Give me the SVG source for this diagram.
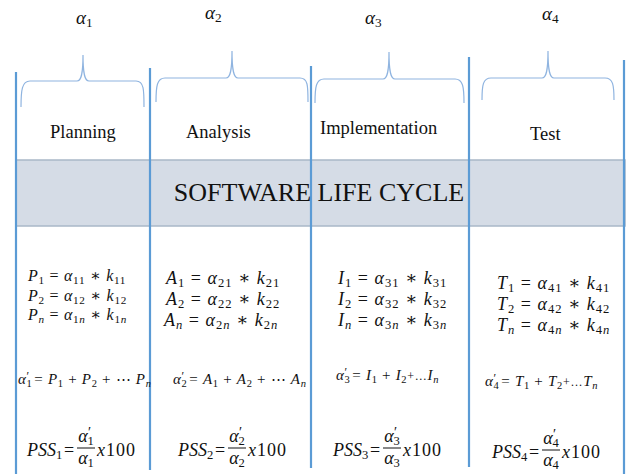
<svg xmlns="http://www.w3.org/2000/svg" width="627" height="474" viewBox="0 0 627 474">
<style>
.vl{stroke:#5b9bd5;stroke-width:2.2;fill:none}
.br{stroke:#8fb4e0;stroke-width:1.2;fill:none}
.lab{font-family:"Liberation Serif",serif;font-size:18.5px;fill:#111}
.m{font-family:"Liberation Serif","DejaVu Serif",serif;fill:#111}
.i{font-style:italic}
.sb{font-size:0.7em}
.pr{font-size:0.8em}
.al{font-family:"Liberation Serif","DejaVu Serif",serif;font-style:italic;font-size:19px;fill:#111}
.eq1{font-size:16px;letter-spacing:0.7px}
.eq2{font-size:18px;letter-spacing:1px}
.sum{font-size:15px;letter-spacing:0.7px}
.ps{font-size:18px}
.hx{letter-spacing:1px}
.bar{stroke:#111;stroke-width:1}
</style>
<rect width="627" height="474" fill="#fff"/>
<g id="band">
<rect x="16" y="160" width="609" height="66" fill="#d5dce6" stroke="#a9b8c8" stroke-width="1.5"/>
</g>
<g id="connectors">
<line class="vl" x1="16" y1="72" x2="16" y2="474"/>
<line class="vl" x1="150" y1="68" x2="150" y2="470"/>
<line class="vl" x1="311" y1="66" x2="311" y2="468"/>
<line class="vl" x1="469" y1="57" x2="469" y2="467"/>
<line class="vl" x1="624" y1="60" x2="624" y2="474"/>
</g>
<text x="319" y="201" text-anchor="middle" style="font-family:'Liberation Serif',serif;font-size:26px;fill:#111">SOFTWARE LIFE CYCLE</text>
<g id="planning">
<path class="br" d="M21,107 C21,90 22,81 30,81 L77,81 C81,81 83,75 83,55 C83,75 85,81 89,81 L136,81 C144,81 144,90 144,107"/>
<text class="al" x="76" y="24">α<tspan class="sb" dy="3" style="font-style:normal">1</tspan></text>
<text class="lab" x="50" y="138">Planning</text>
<text class="m eq1" x="28" y="281"><tspan class="i">P</tspan><tspan class="sb" dy="3">1</tspan><tspan dy="-3"> = </tspan><tspan class="i">α</tspan><tspan class="sb" dy="3">11</tspan><tspan dy="-3"> ∗  </tspan><tspan class="i">k</tspan><tspan class="sb" dy="3">11</tspan></text>
<text class="m eq1" x="28" y="301"><tspan class="i">P</tspan><tspan class="sb" dy="3">2</tspan><tspan dy="-3"> = </tspan><tspan class="i">α</tspan><tspan class="sb" dy="3">12</tspan><tspan dy="-3"> ∗  </tspan><tspan class="i">k</tspan><tspan class="sb" dy="3">12</tspan></text>
<text class="m eq1" x="28" y="320"><tspan class="i">P</tspan><tspan class="sb i" dy="3">n</tspan><tspan dy="-3"> = </tspan><tspan class="i">α</tspan><tspan class="sb" dy="3">1<tspan class="i">n</tspan></tspan><tspan dy="-3"> ∗  </tspan><tspan class="i">k</tspan><tspan class="sb" dy="3">1<tspan class="i">n</tspan></tspan></text>
<text class="m sum" x="18" y="384"><tspan class="i">α</tspan><tspan class="sb" dy="3">1</tspan><tspan class="pr" dx="-6" dy="-7">′</tspan><tspan dy="4"> =  </tspan><tspan class="i">P</tspan><tspan class="sb" dy="3">1</tspan><tspan dy="-3"> +  </tspan><tspan class="i">P</tspan><tspan class="sb" dy="3">2</tspan><tspan dy="-3"> + ⋯ </tspan><tspan class="i">P</tspan><tspan class="sb i" dy="3">n</tspan></text>
<text class="m ps" x="27" y="456"><tspan class="i">PSS</tspan><tspan class="sb" dy="3">1</tspan></text>
<text class="m ps" x="64" y="456">=</text>
<text class="m ps" x="86" y="442" text-anchor="middle"><tspan class="i">α</tspan><tspan class="sb" dy="3">1</tspan><tspan class="pr" dx="-6" dy="-8">′</tspan></text>
<line class="bar" x1="77" y1="448" x2="95" y2="448"/>
<text class="m ps" x="86" y="464" text-anchor="middle"><tspan class="i">α</tspan><tspan class="sb" dy="3">1</tspan></text>
<text class="m ps hx" x="97" y="456"><tspan class="i">x</tspan>100</text>
</g>
<g id="analysis">
<path class="br" d="M156,102 C156,86 157,78 165,78 L226,78 C230,78 232,72 232,51 C232,72 234,78 238,78 L300,78 C308,78 308,86 308,102"/>
<text class="al" x="205" y="19">α<tspan class="sb" dy="3" style="font-style:normal">2</tspan></text>
<text class="lab" x="186" y="138">Analysis</text>
<text class="m eq2" x="166" y="284" letter-spacing="1.3"><tspan class="i">A</tspan><tspan class="sb" dy="3">1</tspan><tspan dy="-3"> = </tspan><tspan class="i">α</tspan><tspan class="sb" dy="3">21</tspan><tspan dy="-3"> ∗  </tspan><tspan class="i">k</tspan><tspan class="sb" dy="3">21</tspan></text>
<text class="m eq2" x="166" y="305" letter-spacing="1.3"><tspan class="i">A</tspan><tspan class="sb" dy="3">2</tspan><tspan dy="-3"> = </tspan><tspan class="i">α</tspan><tspan class="sb" dy="3">22</tspan><tspan dy="-3"> ∗  </tspan><tspan class="i">k</tspan><tspan class="sb" dy="3">22</tspan></text>
<text class="m eq2" x="164" y="326" letter-spacing="1.3"><tspan class="i">A</tspan><tspan class="sb i" dy="3">n</tspan><tspan dy="-3"> = </tspan><tspan class="i">α</tspan><tspan class="sb" dy="3">2<tspan class="i">n</tspan></tspan><tspan dy="-3"> ∗  </tspan><tspan class="i">k</tspan><tspan class="sb" dy="3">2<tspan class="i">n</tspan></tspan></text>
<text class="m sum" x="173" y="384"><tspan class="i">α</tspan><tspan class="sb" dy="3">2</tspan><tspan class="pr" dx="-6" dy="-7">′</tspan><tspan dy="4"> =  </tspan><tspan class="i">A</tspan><tspan class="sb" dy="3">1</tspan><tspan dy="-3"> +  </tspan><tspan class="i">A</tspan><tspan class="sb" dy="3">2</tspan><tspan dy="-3"> + ⋯  </tspan><tspan class="i">A</tspan><tspan class="sb i" dy="3">n</tspan></text>
<text class="m ps" x="178" y="456"><tspan class="i">PSS</tspan><tspan class="sb" dy="3">2</tspan></text>
<text class="m ps" x="215" y="456">=</text>
<text class="m ps" x="237" y="442" text-anchor="middle"><tspan class="i">α</tspan><tspan class="sb" dy="3">2</tspan><tspan class="pr" dx="-6" dy="-8">′</tspan></text>
<line class="bar" x1="228" y1="448" x2="246" y2="448"/>
<text class="m ps" x="237" y="464" text-anchor="middle"><tspan class="i">α</tspan><tspan class="sb" dy="3">2</tspan></text>
<text class="m ps hx" x="248" y="456"><tspan class="i">x</tspan>100</text>
</g>
<g id="implementation">
<path class="br" d="M315,103 C315,87 316,79 324,79 L383,79 C387,79 389,73 389,52 C389,73 391,79 395,79 L455,79 C463,79 464,87 464,103"/>
<text class="al" x="365" y="24">α<tspan class="sb" dy="3" style="font-style:normal">3</tspan></text>
<text class="lab" x="320" y="134">Implementation</text>
<text class="m eq2" x="338" y="284"><tspan class="i">I</tspan><tspan class="sb" dy="3">1</tspan><tspan dy="-3"> = </tspan><tspan class="i">α</tspan><tspan class="sb" dy="3">31</tspan><tspan dy="-3"> ∗  </tspan><tspan class="i">k</tspan><tspan class="sb" dy="3">31</tspan></text>
<text class="m eq2" x="338" y="305"><tspan class="i">I</tspan><tspan class="sb" dy="3">2</tspan><tspan dy="-3"> = </tspan><tspan class="i">α</tspan><tspan class="sb" dy="3">32</tspan><tspan dy="-3"> ∗  </tspan><tspan class="i">k</tspan><tspan class="sb" dy="3">32</tspan></text>
<text class="m eq2" x="338" y="326"><tspan class="i">I</tspan><tspan class="sb i" dy="3">n</tspan><tspan dy="-3"> = </tspan><tspan class="i">α</tspan><tspan class="sb" dy="3">3<tspan class="i">n</tspan></tspan><tspan dy="-3"> ∗  </tspan><tspan class="i">k</tspan><tspan class="sb" dy="3">3<tspan class="i">n</tspan></tspan></text>
<text class="m sum" x="336" y="380" letter-spacing="0.9"><tspan class="i">α</tspan><tspan class="sb" dy="3">3</tspan><tspan class="pr" dx="-6" dy="-7">′</tspan><tspan dy="4"> =  </tspan><tspan class="i">I</tspan><tspan class="sb" dy="3">1</tspan><tspan dy="-3">  +  </tspan><tspan class="i">I</tspan><tspan class="sb" dy="3">2</tspan><tspan dy="-3" font-size="12">+…</tspan><tspan class="i">I</tspan><tspan class="sb i" dy="3">n</tspan></text>
<text class="m ps" x="333" y="456"><tspan class="i">PSS</tspan><tspan class="sb" dy="3">3</tspan></text>
<text class="m ps" x="370" y="456">=</text>
<text class="m ps" x="392" y="442" text-anchor="middle"><tspan class="i">α</tspan><tspan class="sb" dy="3">3</tspan><tspan class="pr" dx="-6" dy="-8">′</tspan></text>
<line class="bar" x1="383" y1="448" x2="401" y2="448"/>
<text class="m ps" x="392" y="464" text-anchor="middle"><tspan class="i">α</tspan><tspan class="sb" dy="3">3</tspan></text>
<text class="m ps hx" x="403" y="456"><tspan class="i">x</tspan>100</text>
</g>
<g id="test">
<path class="br" d="M482,100 C482,85 483,78 491,78 L542,78 C546,78 548,72 548,51 C548,72 550,78 554,78 L605,78 C613,78 614,85 614,100"/>
<text class="al" x="542" y="20">α<tspan class="sb" dy="3" style="font-style:normal">4</tspan></text>
<text class="lab" x="530" y="140">Test</text>
<text class="m eq2" x="497" y="289" letter-spacing="1.2"><tspan class="i">T</tspan><tspan class="sb" dy="3">1</tspan><tspan dy="-3"> = </tspan><tspan class="i">α</tspan><tspan class="sb" dy="3">41</tspan><tspan dy="-3"> ∗  </tspan><tspan class="i">k</tspan><tspan class="sb" dy="3">41</tspan></text>
<text class="m eq2" x="497" y="310" letter-spacing="1.2"><tspan class="i">T</tspan><tspan class="sb" dy="3">2</tspan><tspan dy="-3"> = </tspan><tspan class="i">α</tspan><tspan class="sb" dy="3">42</tspan><tspan dy="-3"> ∗  </tspan><tspan class="i">k</tspan><tspan class="sb" dy="3">42</tspan></text>
<text class="m eq2" x="497" y="331" letter-spacing="1.2"><tspan class="i">T</tspan><tspan class="sb i" dy="3">n</tspan><tspan dy="-3"> = </tspan><tspan class="i">α</tspan><tspan class="sb" dy="3">4<tspan class="i">n</tspan></tspan><tspan dy="-3"> ∗  </tspan><tspan class="i">k</tspan><tspan class="sb" dy="3">4<tspan class="i">n</tspan></tspan></text>
<text class="m sum" x="485" y="386" letter-spacing="1.2"><tspan class="i">α</tspan><tspan class="sb" dy="3">4</tspan><tspan class="pr" dx="-6" dy="-7">′</tspan><tspan dy="4"> =  </tspan><tspan class="i">T</tspan><tspan class="sb" dy="3">1</tspan><tspan dy="-3">  +  </tspan><tspan class="i">T</tspan><tspan class="sb" dy="3">2</tspan><tspan dy="-3" font-size="12">+…</tspan><tspan class="i">T</tspan><tspan class="sb i" dy="3">n</tspan></text>
<text class="m ps" x="492" y="458"><tspan class="i">PSS</tspan><tspan class="sb" dy="3">4</tspan></text>
<text class="m ps" x="529" y="458">=</text>
<text class="m ps" x="551" y="444" text-anchor="middle"><tspan class="i">α</tspan><tspan class="sb" dy="3">4</tspan><tspan class="pr" dx="-6" dy="-8">′</tspan></text>
<line class="bar" x1="542" y1="450" x2="560" y2="450"/>
<text class="m ps" x="551" y="466" text-anchor="middle"><tspan class="i">α</tspan><tspan class="sb" dy="3">4</tspan></text>
<text class="m ps hx" x="562" y="458"><tspan class="i">x</tspan>100</text>
</g>
</svg>
